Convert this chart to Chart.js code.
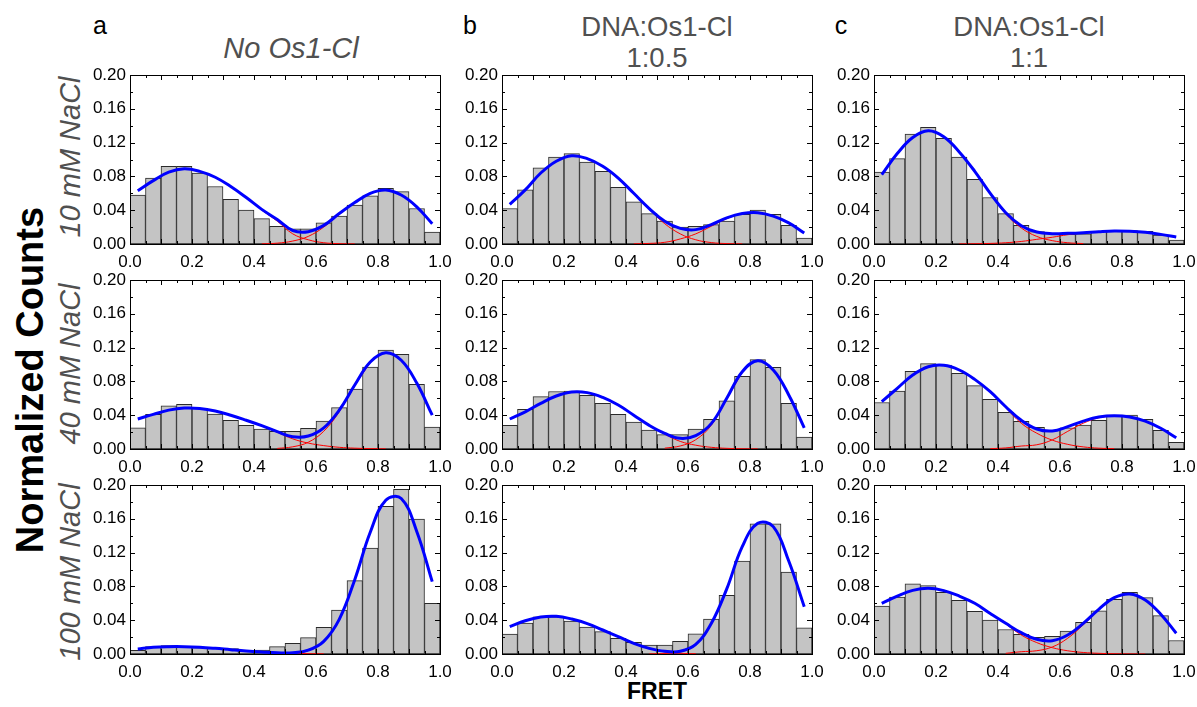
<!DOCTYPE html>
<html>
<head>
<meta charset="utf-8">
<script src="https://cdn.jsdelivr.net/npm/chart.js@4.4.1/dist/chart.umd.min.js"></script>
<style>
  body { margin: 0; background: #fff; width: 1197px; height: 707px; overflow: hidden; position: relative; font-family: "Liberation Sans", Arial, sans-serif; }
  .panel { position: absolute; width: 372px; height: 209px; }
  .txt { position: absolute; white-space: nowrap; transform: translate(-50%, -50%); line-height: 1; }
  .rot { transform: translate(-50%, -50%) rotate(-90deg); }
  .cond { color: #505050; font-style: italic; font-size: 29px; }
  .head { color: #505050; font-size: 27.5px; }
  .let { color: #000; font-size: 25px; }
</style>
</head>
<body>

<div class="txt let" style="left:100px;top:25px;">a</div>
<div class="txt let" style="left:470px;top:25px;">b</div>
<div class="txt let" style="left:841px;top:25px;">c</div>
<div class="txt head" style="left:291px;top:48px;font-style:italic;font-size:29px;">No Os1-Cl</div>
<div class="txt head" style="left:657px;top:27px;">DNA:Os1-Cl</div>
<div class="txt head" style="left:657px;top:58px;">1:0.5</div>
<div class="txt head" style="left:1029px;top:27px;">DNA:Os1-Cl</div>
<div class="txt head" style="left:1029px;top:58px;">1:1</div>
<div class="txt rot cond" style="left:70px;top:157px;">10 mM NaCl</div>
<div class="txt rot cond" style="left:70px;top:364px;">40 mM NaCl</div>
<div class="txt rot cond" style="left:70px;top:572px;">100 mM NaCl</div>
<div class="txt rot" style="left:30px;top:380px;font-size:38px;font-weight:bold;">Normalized Counts</div>
<div class="txt" style="left:657px;top:691px;font-size:23px;font-weight:bold;">FRET</div>

<div class="panel" style="left:80px;top:65px;"><canvas id="c_a1"></canvas></div>
<div class="panel" style="left:452px;top:65px;"><canvas id="c_b1"></canvas></div>
<div class="panel" style="left:824px;top:65px;"><canvas id="c_c1"></canvas></div>
<div class="panel" style="left:80px;top:270px;"><canvas id="c_a2"></canvas></div>
<div class="panel" style="left:452px;top:270px;"><canvas id="c_b2"></canvas></div>
<div class="panel" style="left:824px;top:270px;"><canvas id="c_c2"></canvas></div>
<div class="panel" style="left:80px;top:475px;"><canvas id="c_a3"></canvas></div>
<div class="panel" style="left:452px;top:475px;"><canvas id="c_b3"></canvas></div>
<div class="panel" style="left:824px;top:475px;"><canvas id="c_c3"></canvas></div>

<script>
// FRET bin centres (bin width 0.05)
var fretBins = [0.025,0.075,0.125,0.175,0.225,0.275,0.325,0.375,0.425,0.475,
                0.525,0.575,0.625,0.675,0.725,0.775,0.825,0.875,0.925,0.975];
var yTicks = [0.00,0.04,0.08,0.12,0.16,0.20];
var xTicks = [0.0,0.2,0.4,0.6,0.8,1.0];

// row 1: 10 mM NaCl
var a1_counts = [0.058,0.078,0.092,0.092,0.084,0.068,0.053,0.040,0.030,0.021,0.018,0.018,0.025,0.033,0.046,0.057,0.066,0.062,0.042,0.014];
var a1_fit    = [0.063,0.075,0.085,0.089,0.086,0.079,0.068,0.055,0.041,0.029,0.016,0.0146,0.022,0.036,0.049,0.060,0.064,0.058,0.044,0.024];
var a1_peak1  = [null,null,null,null,null,null,null,null,0.040,0.027,0.012,0.005,0.0015,0.0004,0.0001,null,null,null,null,null];
var a1_peak2  = [null,null,null,null,null,null,null,null,0.0002,0.001,0.0035,0.009,0.020,0.035,0.049,null,null,null,null,null];

var b1_counts = [0.042,0.064,0.090,0.103,0.107,0.097,0.086,0.067,0.050,0.036,0.027,0.020,0.021,0.023,0.027,0.035,0.040,0.035,0.022,0.007];
var b1_fit    = [0.047,0.064,0.084,0.098,0.1045,0.101,0.092,0.078,0.060,0.042,0.027,0.0185,0.017,0.023,0.031,0.036,0.037,0.033,0.025,0.013];
var b1_peak1  = [null,null,null,null,null,null,null,null,0.060,0.041,0.024,0.012,0.005,0.0017,0.0005,0.0001,null,null,null,null];
var b1_peak2  = [null,null,null,null,null,null,null,null,0.0002,0.0007,0.002,0.006,0.012,0.021,0.030,0.036,0.037,null,null,null];

var c1_counts = [0.085,0.101,0.130,0.138,0.125,0.103,0.0765,0.055,0.036,0.022,0.0146,0.0126,0.0114,0.012,0.015,0.0154,0.016,0.015,0.0107,0.0047];
var c1_fit    = [0.082,0.107,0.126,0.134,0.127,0.109,0.086,0.060,0.037,0.0217,0.0142,0.0122,0.0126,0.0134,0.0146,0.0154,0.015,0.0138,0.0114,0.0083];
var c1_peak1  = [null,null,null,null,null,null,null,0.0595,0.0355,0.019,0.009,0.004,0.0015,0.0005,null,null,null,null,null,null];
var c1_peak2  = [null,null,null,null,null,0.0001,0.0003,0.0007,0.0015,0.003,0.0055,0.008,0.011,0.013,0.0146,0.0155,null,null,null,null];

// row 2: 40 mM NaCl
var a2_counts = [0.025,0.041,0.051,0.053,0.048,0.0414,0.034,0.028,0.0237,0.021,0.021,0.0245,0.033,0.049,0.071,0.097,0.117,0.112,0.0765,0.026];
var a2_fit    = [0.0355,0.041,0.046,0.0485,0.048,0.045,0.040,0.034,0.0276,0.0205,0.0146,0.0154,0.025,0.046,0.0757,0.103,0.114,0.105,0.078,0.040];
var a2_peak1  = [null,null,null,null,null,null,null,null,0.0274,0.0198,0.012,0.007,0.004,0.002,0.001,0.0005,0.0002,null,null,null];
var a2_peak2  = [null,null,null,null,null,null,null,null,null,0.0007,0.0026,0.008,0.021,0.044,0.0747,0.1025,null,null,null,null];

var b2_counts = [0.028,0.047,0.062,0.068,0.0686,0.0635,0.054,0.041,0.032,0.0225,0.017,0.017,0.0237,0.035,0.057,0.086,0.1057,0.0966,0.054,0.014];
var b2_fit    = [0.0355,0.044,0.054,0.0627,0.0675,0.0667,0.061,0.052,0.040,0.028,0.0185,0.0126,0.0158,0.030,0.060,0.0915,0.1045,0.0935,0.064,0.025];
var b2_peak1  = [null,null,null,null,null,null,null,null,0.040,0.0278,0.0175,0.009,0.0045,0.002,0.0008,0.0003,0.0001,null,null,null];
var b2_peak2  = [null,null,null,null,null,null,null,null,null,null,0.001,0.0036,0.011,0.028,0.059,0.0912,null,null,null,null];

var c2_counts = [0.055,0.0686,0.092,0.101,0.0994,0.0895,0.075,0.0588,0.0434,0.0327,0.0256,0.022,0.025,0.0284,0.034,0.040,0.040,0.035,0.022,0.008];
var c2_fit    = [0.056,0.0718,0.0876,0.0974,0.099,0.0935,0.0824,0.0678,0.050,0.034,0.0237,0.0213,0.0264,0.033,0.0379,0.0394,0.0379,0.033,0.0245,0.0134];
var c2_peak1  = [null,null,null,null,null,null,null,0.0674,0.0487,0.0305,0.0187,0.0105,0.0055,0.0025,0.001,0.0004,null,null,null,null];
var c2_peak2  = [null,null,null,null,null,null,null,0.0004,0.0013,0.0035,0.005,0.0108,0.0209,0.0305,0.0369,0.039,0.0379,null,null,null];

// row 3: 100 mM NaCl
var a3_counts = [0.0043,0.0087,0.0099,0.0087,0.0075,0.0067,0.0063,0.0043,0.0047,0.0087,0.0126,0.0193,0.0316,0.052,0.0868,0.1254,0.1748,0.1949,0.1598,0.060];
var a3_fit    = [0.006,0.008,0.0087,0.0087,0.008,0.0067,0.0051,0.0036,0.0024,0.0014,0.0014,0.0045,0.015,0.041,0.088,0.144,0.182,0.184,0.145,0.0856];
var a3_peak1  = [null,null,null,null,null,null,null,0.0036,0.0024,0.0013,0.0008,0.0004,0.0002,null,null,null,null,null,null,null];
var a3_peak2  = [null,null,null,null,null,null,null,null,null,0.0001,0.0006,0.0041,0.0148,0.041,null,null,null,null,null,null];

var b3_counts = [0.0237,0.0367,0.044,0.044,0.039,0.032,0.0264,0.0185,0.0138,0.0107,0.0107,0.015,0.024,0.0414,0.0694,0.110,0.154,0.154,0.097,0.031];
var b3_fit    = [0.0323,0.0394,0.0438,0.0446,0.0414,0.036,0.0284,0.0205,0.0126,0.0067,0.0032,0.0032,0.0114,0.036,0.077,0.127,0.1546,0.1507,0.110,0.056];
var b3_peak1  = [null,null,null,null,null,null,null,null,0.0125,0.0066,0.0025,0.0009,0.0003,null,null,null,null,null,null,null];
var b3_peak2  = [null,null,null,null,null,null,null,null,null,0.0001,0.0007,0.0023,0.0111,0.036,null,null,null,null,null,null];

var c3_counts = [0.0568,0.0675,0.083,0.081,0.073,0.0635,0.0505,0.040,0.029,0.0233,0.0197,0.021,0.027,0.0375,0.051,0.0647,0.073,0.0667,0.0454,0.016];
var c3_fit    = [0.060,0.0686,0.0753,0.0777,0.075,0.0686,0.060,0.048,0.0363,0.0252,0.0174,0.0158,0.0225,0.0363,0.0529,0.0667,0.071,0.064,0.047,0.0245];
var c3_peak1  = [null,null,null,null,null,null,null,null,0.0355,0.0225,0.0135,0.0075,0.0038,0.0018,0.0008,0.0003,0.0001,0.0,null,null];
var c3_peak2  = [null,null,null,null,null,null,null,null,0.0008,0.0027,0.0039,0.0083,0.0187,0.0345,0.0521,null,null,null,null,null];

function pts(vals){
  return fretBins.map(function(x, i){ return {x: x, y: vals[i]}; });
}

// frame + inward ticks on all four sides, like the Origin plots
var framePlugin = {
  id: 'frame',
  afterDraw: function(chart){
    var ctx = chart.ctx, a = chart.chartArea;
    var xs = chart.scales.x, ys = chart.scales.y;
    ctx.save();
    ctx.strokeStyle = '#000';
    ctx.lineWidth = 1;
    ctx.strokeRect(Math.round(a.left) + 0.5, Math.round(a.top) + 0.5, Math.round(a.right - a.left), Math.round(a.bottom - a.top));
    ctx.beginPath();
    for (var i = 0; i <= 10; i++){
      var py = Math.round(ys.getPixelForValue(i * 0.02)) + 0.5;
      var len = (i % 2 == 0) ? 5 : 3;
      ctx.moveTo(a.left, py); ctx.lineTo(a.left + len, py);
      ctx.moveTo(a.right, py); ctx.lineTo(a.right - len, py);
    }
    for (var j = 0; j <= 20; j++){
      var px = Math.round(xs.getPixelForValue(j * 0.05)) + 0.5;
      var l2 = (j % 2 == 0) ? 5 : 3;
      ctx.moveTo(px, a.bottom); ctx.lineTo(px, a.bottom - l2);
      ctx.moveTo(px, a.top); ctx.lineTo(px, a.top + l2);
    }
    ctx.stroke();
    ctx.restore();
  }
};

function noPad(s){
  s.paddingLeft = 0; s.paddingRight = 0; s.paddingTop = 0; s.paddingBottom = 0;
}

function make_panel(id, counts, fit, peak1, peak2){
  var ctx = document.getElementById(id).getContext('2d');
  new Chart(ctx, {
    type: 'bar',
    data: {
      datasets: [{
        type: 'line',
        data: pts(fit),
        borderColor: '#0000ff',
        borderWidth: 3,
        pointRadius: 0,
        tension: 0.4,
        fill: false,
        order: 0
      }, {
        type: 'line',
        data: pts(peak1),
        borderColor: '#ff0000',
        borderWidth: 1,
        pointRadius: 0,
        tension: 0.4,
        spanGaps: false,
        fill: false,
        order: 1
      }, {
        type: 'line',
        data: pts(peak2),
        borderColor: '#ff0000',
        borderWidth: 1,
        pointRadius: 0,
        tension: 0.4,
        spanGaps: false,
        fill: false,
        order: 1
      }, {
        type: 'bar',
        data: pts(counts),
        backgroundColor: '#c4c4c4',
        borderColor: '#2a2a2a',
        borderWidth: 1,
        borderSkipped: false,
        barPercentage: 1.0,
        categoryPercentage: 1.0,
        order: 2
      }]
    },
    options: {
      responsive: true,
      maintainAspectRatio: false,
      animation: false,
      layout: { padding: { top: 10, right: 12, left: 0, bottom: 0 } },
      plugins: { legend: { display: false }, tooltip: { enabled: false } },
      scales: {
        x: {
          type: 'linear',
          min: 0,
          max: 1,
          offset: false,
          afterFit: function(s){ s.height = 30; noPad(s); },
          afterBuildTicks: function(s){ s.ticks = xTicks.map(function(v){ return {value: v}; }); },
          grid: { display: false, drawTicks: false },
          border: { display: false },
          ticks: {
            padding: 8,
            color: '#000',
            maxRotation: 0,
            font: { size: 17, family: 'Liberation Sans' },
            callback: function(v){ return Number(v).toFixed(1); }
          }
        },
        y: {
          min: 0,
          max: 0.2,
          afterFit: function(s){ s.width = 50; noPad(s); },
          afterBuildTicks: function(s){ s.ticks = yTicks.map(function(v){ return {value: v}; }); },
          grid: { display: false, drawTicks: false },
          border: { display: false },
          ticks: {
            padding: 4,
            color: '#000',
            font: { size: 17, family: 'Liberation Sans' },
            callback: function(v){ return Number(v).toFixed(2); }
          }
        }
      }
    },
    plugins: [framePlugin]
  });
}

make_panel('c_a1', a1_counts, a1_fit, a1_peak1, a1_peak2);
make_panel('c_b1', b1_counts, b1_fit, b1_peak1, b1_peak2);
make_panel('c_c1', c1_counts, c1_fit, c1_peak1, c1_peak2);
make_panel('c_a2', a2_counts, a2_fit, a2_peak1, a2_peak2);
make_panel('c_b2', b2_counts, b2_fit, b2_peak1, b2_peak2);
make_panel('c_c2', c2_counts, c2_fit, c2_peak1, c2_peak2);
make_panel('c_a3', a3_counts, a3_fit, a3_peak1, a3_peak2);
make_panel('c_b3', b3_counts, b3_fit, b3_peak1, b3_peak2);
make_panel('c_c3', c3_counts, c3_fit, c3_peak1, c3_peak2);
</script>
</body>
</html>
